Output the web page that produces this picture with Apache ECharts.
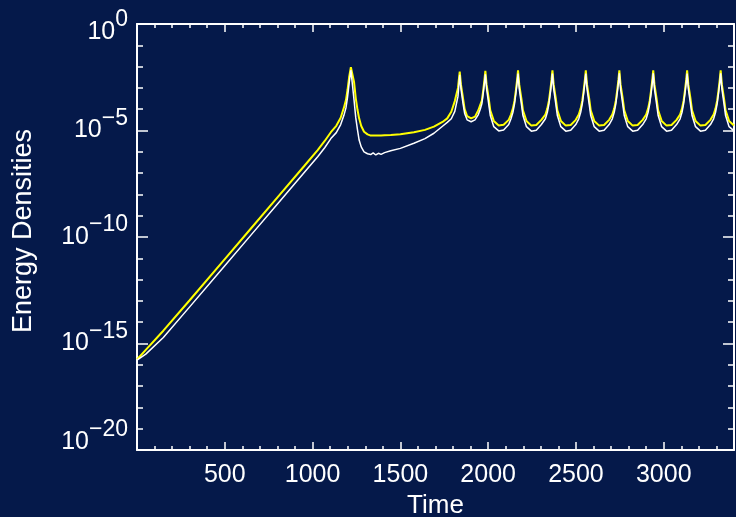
<!DOCTYPE html>
<html>
<head>
<meta charset="utf-8">
<script src="https://cdn.jsdelivr.net/npm/echarts@6/dist/echarts.min.js"></script>
<style>
  html, body { margin: 0; padding: 0; background: #05194a; }
  #chart { width: 736px; height: 517px; }
</style>
</head>
<body>
<div id="chart"></div>
<script>
// sample times
var times = [
  0, 50, 150, 300, 500, 650, 800, 950, 1029, 1070, 1104, 1135, 1160, 1178, 1190, 1199, 1208, 1218,
  1236, 1246, 1256, 1265, 1277, 1293, 1313, 1331, 1345, 1360, 1375, 1390, 1410, 1445, 1500, 1577,
  1640, 1691, 1740, 1767, 1790, 1810, 1828, 1833, 1838,
  1845, 1857, 1866, 1880, 1903, 1925, 1944, 1955, 1964, 1972, 1979, 1984,
  1991, 2003, 2012, 2032, 2060, 2088, 2117, 2130, 2141, 2150, 2158, 2165, 2170,
  2177, 2189, 2198, 2218, 2246, 2274, 2303, 2326, 2337, 2346, 2354, 2361, 2366,
  2373, 2385, 2394, 2414, 2442, 2470, 2499, 2516, 2527, 2536, 2544, 2551, 2556,
  2563, 2575, 2584, 2604, 2632, 2660, 2689, 2707, 2718, 2727, 2735, 2742, 2747,
  2754, 2766, 2775, 2795, 2823, 2851, 2880, 2900, 2911, 2920, 2928, 2935, 2940,
  2947, 2959, 2968, 2988, 3016, 3044, 3073, 3093, 3104, 3113, 3121, 3128, 3133,
  3140, 3152, 3161, 3181, 3209, 3237, 3266, 3284, 3295, 3304, 3312, 3319, 3324,
  3331, 3343, 3352, 3372, 3400
];

// energy densities, as powers of ten
var yellowExp = [
  -15.75, -15.3, -14.4, -12.97, -11.04, -9.59, -8.14, -6.69, -5.92, -5.48, -5.08, -4.78, -4.4, -3.94, -3.57, -3.1, -2.5, -2.03,
  -2.72, -3.49, -4.04, -4.43, -4.79, -5.06, -5.18, -5.24, -5.24, -5.24, -5.23, -5.23, -5.22, -5.21, -5.18, -5.08,
  -4.97, -4.82, -4.6, -4.43, -4.12, -3.62, -3.0, -2.6, -2.24,
  -2.85, -3.5, -4.0, -4.32, -4.43, -4.35, -4.05, -3.8, -3.6, -3.1, -2.6, -2.2,
  -2.85, -3.49, -4.05, -4.55, -4.76, -4.73, -4.5, -4.25, -3.96, -3.6, -3.1, -2.6, -2.17,
  -2.85, -3.49, -4.05, -4.55, -4.77, -4.74, -4.5, -4.25, -3.96, -3.6, -3.1, -2.6, -2.18,
  -2.85, -3.49, -4.05, -4.55, -4.77, -4.74, -4.5, -4.25, -3.96, -3.6, -3.1, -2.6, -2.18,
  -2.85, -3.49, -4.05, -4.55, -4.77, -4.74, -4.5, -4.25, -3.96, -3.6, -3.1, -2.6, -2.17,
  -2.85, -3.49, -4.05, -4.55, -4.77, -4.74, -4.5, -4.25, -3.96, -3.6, -3.1, -2.6, -2.17,
  -2.85, -3.49, -4.05, -4.55, -4.77, -4.74, -4.5, -4.25, -3.96, -3.6, -3.1, -2.6, -2.18,
  -2.85, -3.49, -4.05, -4.55, -4.77, -4.74, -4.5, -4.25, -3.96, -3.6, -3.1, -2.6, -2.17,
  -2.85, -3.49, -4.05, -4.55, -4.76
];
var whiteExp = [
  -15.78, -15.5, -14.72, -13.28, -11.35, -9.9, -8.45, -7.0, -6.23, -5.8, -5.38, -5.1, -4.72, -4.3, -3.94, -3.45, -2.8, -2.16,
  -3.57, -4.41, -4.98, -5.45, -5.77, -6.0, -6.09, -6.13, -6.05, -6.15, -6.07, -6.12, -6.04, -5.95, -5.84, -5.6,
  -5.38, -5.13, -4.8, -4.62, -4.45, -4.1, -3.4, -2.9, -2.39,
  -3.05, -3.75, -4.2, -4.5, -4.59, -4.5, -4.25, -4.0, -3.75, -3.25, -2.75, -2.36,
  -3.05, -3.75, -4.3, -4.82, -5.02, -4.98, -4.72, -4.45, -4.15, -3.75, -3.25, -2.75, -2.33,
  -3.05, -3.75, -4.3, -4.82, -5.03, -4.99, -4.72, -4.45, -4.15, -3.75, -3.25, -2.75, -2.33,
  -3.05, -3.75, -4.3, -4.82, -5.03, -4.99, -4.72, -4.45, -4.15, -3.75, -3.25, -2.75, -2.33,
  -3.05, -3.75, -4.3, -4.82, -5.03, -4.99, -4.72, -4.45, -4.15, -3.75, -3.25, -2.75, -2.32,
  -3.05, -3.75, -4.3, -4.82, -5.03, -4.99, -4.72, -4.45, -4.15, -3.75, -3.25, -2.75, -2.32,
  -3.05, -3.75, -4.3, -4.82, -5.03, -4.99, -4.72, -4.45, -4.15, -3.75, -3.25, -2.75, -2.33,
  -3.05, -3.75, -4.3, -4.82, -5.03, -4.99, -4.72, -4.45, -4.15, -3.75, -3.25, -2.75, -2.32,
  -3.05, -3.75, -4.3, -4.82, -5.02
];

var xTicks = [500, 1000, 1500, 2000, 2500, 3000];
var yDecades = [-20, -15, -10, -5, 0];

var FONT = '"Liberation Sans", Arial, sans-serif';
var FG = '#ffffff';

function pairs(ys) {
  return times.map(function (t, i) { return [t, ys[i]]; });
}

// one axis for the long ticks, one for the short ones
function xAxisOf(pos, major) {
  return {
    type: 'value', position: pos, min: 0, max: 3400,
    interval: major ? 500 : 100,
    axisLine: { show: major, onZero: false, lineStyle: { color: FG, width: 2 } },
    axisTick: { inside: true, length: major ? 8 : 4, lineStyle: { color: FG, width: 1.5 } },
    axisLabel: { show: false },
    splitLine: { show: false }
  };
}

function yAxisOf(pos, major) {
  return {
    type: 'value', position: pos, min: -20, max: 0,
    interval: major ? 5 : 1,
    axisLine: { show: major, onZero: false, lineStyle: { color: FG, width: 2 } },
    axisTick: { inside: true, length: major ? 11 : 6, lineStyle: { color: FG, width: 1.5 } },
    axisLabel: { show: false },
    splitLine: { show: false }
  };
}

var xMain = xAxisOf('bottom', true);
xMain.axisLabel = {
  show: true, color: FG, fontSize: 25, fontFamily: FONT, margin: 13,
  formatter: function (v) { return xTicks.indexOf(v) >= 0 ? String(v) : ''; }
};
xMain.name = 'Time';
xMain.nameLocation = 'middle';
xMain.nameGap = 43;
xMain.nameTextStyle = { color: FG, fontSize: 26, fontFamily: FONT };

// 10^n labels; the end labels sit a little inside, as in the original
var base = { color: FG, fontSize: 25, fontFamily: FONT, lineHeight: 25, verticalAlign: 'bottom' };
var sup = { color: FG, fontSize: 23, fontFamily: FONT, lineHeight: 23, verticalAlign: 'bottom' };
function rs(style, pad) { return Object.assign({}, style, { padding: pad }); }

var yMain = yAxisOf('left', true);
yMain.axisLabel = {
  show: true, margin: 9,
  formatter: function (v) {
    if (yDecades.indexOf(v) < 0) return '';
    if (v === 0) return '{e| }\n{b|10}{s|0}';
    var k = v === -20 ? '1' : '';
    return '{b' + k + '|10}{s' + k + '|\u2212' + (-v) + '}';
  },
  rich: {
    e: { fontSize: 1, lineHeight: 16 },
    b: rs(base, [0, 0, 0, 0]),
    s: rs(sup, [0, 0, 13, 0]),
    b1: rs(base, [0, 0, 8, 0]),
    s1: rs(sup, [0, 0, 21, 0])
  }
};
yMain.name = 'Energy Densities';
yMain.nameLocation = 'middle';
yMain.nameGap = 100;
yMain.nameTextStyle = { color: FG, fontSize: 27, fontFamily: FONT, padding: [0, 0, 0, 12] };

var option = {
  backgroundColor: '#05194a',
  animation: false,
  grid: { left: 137, right: 2, top: 24, bottom: 67, outerBoundsMode: 'none' },
  xAxis: [xMain, xAxisOf('bottom', false), xAxisOf('top', true), xAxisOf('top', false)],
  yAxis: [yMain, yAxisOf('left', false), yAxisOf('right', true), yAxisOf('right', false)],
  series: [
    {
      name: 'yellow', type: 'line', data: pairs(yellowExp),
      symbol: 'none', lineStyle: { color: '#ffff00', width: 2 }
    },
    {
      name: 'white', type: 'line', data: pairs(whiteExp),
      symbol: 'none', lineStyle: { color: '#ffffff', width: 1.5 }
    }
  ]
};

var chart = echarts.init(document.getElementById('chart'), null, { renderer: 'canvas' });
chart.setOption(option);
</script>
</body>
</html>
